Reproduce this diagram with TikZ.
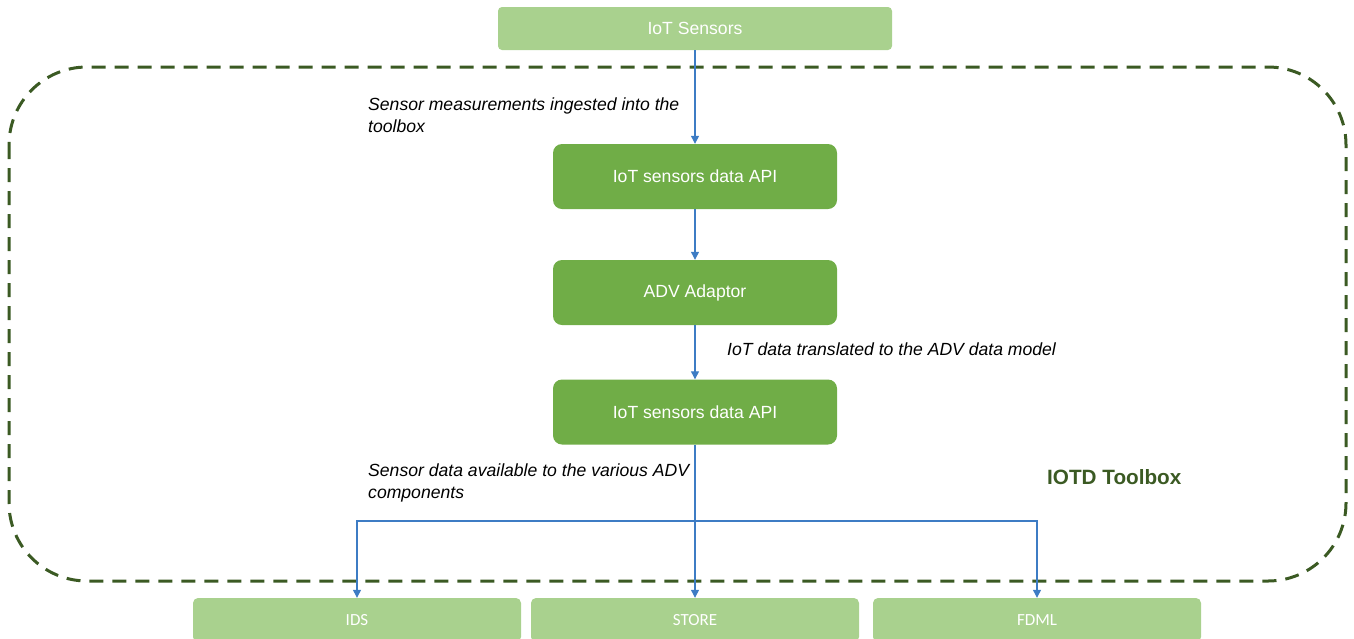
\documentclass[tikz,border=0pt]{standalone}
\usepackage{fontspec}
\setmainfont{Liberation Sans}
\newfontfamily\calib{Carlito}
\usetikzlibrary{arrows.meta}
\definecolor{lightg}{HTML}{A9D18E}
\definecolor{midg}{HTML}{70AD47}
\definecolor{darkg}{HTML}{3B5A23}
\definecolor{arrowb}{HTML}{3D7CC4}
\tikzset{
  topbox/.style={fill=lightg, rounded corners=4pt, text=white, font=\fontsize{17.6}{21}\selectfont, inner sep=0pt},
  apibox/.style={fill=midg, rounded corners=9pt, text=white, font=\fontsize{17.6}{21}\selectfont, minimum width=284pt, minimum height=65pt, inner sep=0pt},
  outbox/.style={fill=lightg, rounded corners=5pt, text=white, font=\calib\fontsize{17}{20}\selectfont, minimum width=328pt, minimum height=44pt, inner sep=0pt},
  flow/.style={draw=arrowb, line width=1.2pt, -{Triangle[width=8pt,length=8pt]}},
  note/.style={font=\itshape\fontsize{17.6}{22}\selectfont, align=left, anchor=base west, inner sep=0pt},
}
\begin{document}
\begin{tikzpicture}[x=1pt,y=-1pt]
\useasboundingbox (0,0) rectangle (1354,638);
% toolbox boundary
\draw[darkg, line width=3pt, dash pattern=on 14pt off 9pt, rounded corners=78pt] (9,67) rectangle (1346,581);
% nodes
\node[topbox, minimum width=394pt, minimum height=43pt] (sens) at (695,28.5) {IoT Sensors};
\node[apibox] (api1) at (695,176.5) {IoT sensors data API};
\node[apibox] (adv) at (695,292.5) {ADV Adaptor};
\node[apibox] (api2) at (695,412) {IoT sensors data API};
\node[outbox] (ids) at (357,620) {IDS};
\node[outbox] (store) at (695,620) {STORE};
\node[outbox] (fdml) at (1037,620) {FDML};
\coordinate (split) at (695,521);
% connectors
\draw[flow] (sens.south) -- (api1.north);
\draw[flow] (api1.south) -- (adv.north);
\draw[flow] (adv.south) -- (api2.north);
\draw[flow] (api2.south) -- (store.north);
\draw[flow] (split) -| (ids.north);
\draw[flow] (split) -| (fdml.north);
% labels
\node[note] (l1) at (368,132) {Sensor measurements ingested into the\\toolbox};
\node[note] (l2) at (727,355) {IoT data translated to the ADV data model};
\node[note] (l3) at (368,498) {Sensor data available to the various ADV\\components};
\node[font=\bfseries\fontsize{20.7}{24}\selectfont, text=darkg, anchor=west, inner sep=0pt] (tb) at (1047,477) {IOTD Toolbox};
\end{tikzpicture}
\end{document}
